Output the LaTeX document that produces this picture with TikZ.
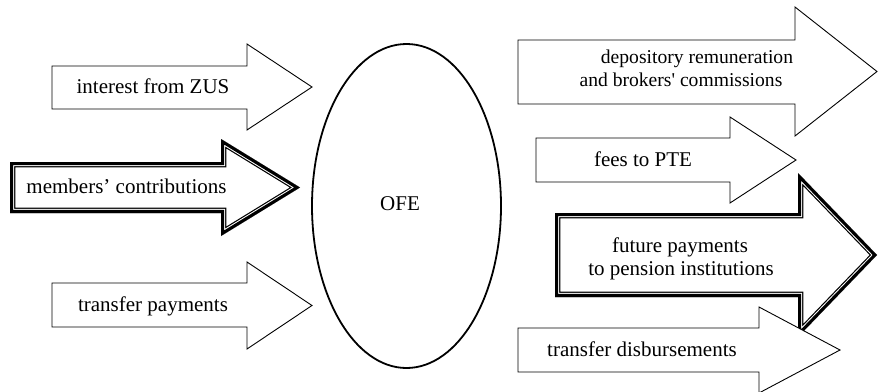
\documentclass[tikz,border=0pt]{standalone}
\usepackage{fontspec}
\setmainfont{Liberation Serif}
\usetikzlibrary{shapes.geometric}
\tikzset{
  plainarrow/.style={draw=black, fill=white, line width=0.9pt, line join=miter},
  lbl/.style={inner sep=0pt, anchor=base, text=black, font=\fontsize{21}{24}\selectfont},
  smalllbl/.style={lbl, font=\fontsize{19.6}{23}\selectfont},
  ofeshape/.style={draw=black, ellipse, line width=1.8pt, minimum width=189pt, minimum height=324pt, inner sep=0pt},
}
% #1 left x, #2 shaft top, #3 shaft bottom, #4 head x, #5 head top, #6 head bottom, #7 tip x
\newcommand{\plainarrow}[7]{%
  \draw[plainarrow] (#1,#2) -- (#4,#2) -- (#4,#5) -- (#7,{(#5+#6)/2}) -- (#4,#6) -- (#4,#3) -- (#1,#3) -- cycle;}
\newcommand{\triplearrow}[7]{%
  \begin{scope}
    \clip (#1,#2) -- (#4,#2) -- (#4,#5) -- (#7,{(#5+#6)/2}) -- (#4,#6) -- (#4,#3) -- (#1,#3) -- cycle;
    \fill[white] (0,0) rectangle (878,391);
    \draw[black, line width=10.6pt, line join=miter] (#1,#2) -- (#4,#2) -- (#4,#5) -- (#7,{(#5+#6)/2}) -- (#4,#6) -- (#4,#3) -- (#1,#3) -- cycle;
    \draw[white, line width=8.2pt, line join=miter] (#1,#2) -- (#4,#2) -- (#4,#5) -- (#7,{(#5+#6)/2}) -- (#4,#6) -- (#4,#3) -- (#1,#3) -- cycle;
    \draw[black, line width=6.2pt, line join=miter] (#1,#2) -- (#4,#2) -- (#4,#5) -- (#7,{(#5+#6)/2}) -- (#4,#6) -- (#4,#3) -- (#1,#3) -- cycle;
  \end{scope}}
\begin{document}
\begin{tikzpicture}[x=1pt, y=-1pt]
  \useasboundingbox (0,0) rectangle (878,391);
  \fill[white] (0,0) rectangle (878,391);

  % incoming arrows
  \plainarrow{52}{66}{109}{247}{44}{130}{312}
  \triplearrow{10}{162}{213}{221}{139}{236}{300}
  \plainarrow{52}{283}{327}{247}{262}{349}{312}

  % OFE
  \node[ofeshape] (ofe) at (406.5,206) {};
  \node[lbl] (ofetext) at (400,210) {OFE};

  % outgoing arrows
  \plainarrow{518}{40}{104}{795}{7}{136}{877}
  \plainarrow{536}{138}{182}{730}{117}{203}{796}
  \triplearrow{555}{213}{297}{798}{173}{337}{877}
  \plainarrow{518}{328}{372}{759}{307}{393}{840}

  % labels
  \node[lbl] (tzus) at (153,93) {interest from ZUS};
  \node[lbl] (tmem) at (126.5,193) {members’ contributions};
  \node[lbl] (ttrp) at (153,311) {transfer payments};
  \node[smalllbl] (tdepa) at (697,63) {depository remuneration};
  \node[smalllbl] (tdepb) at (681,86) {and brokers\textquotesingle\ commissions};
  \node[lbl] (tfees) at (643,166) {fees to PTE};
  \node[lbl] (tfuta) at (680,252) {future payments};
  \node[lbl] (tfutb) at (681,275) {to pension institutions};
  \node[lbl] (ttrd) at (642,356) {transfer disbursements};
\end{tikzpicture}
\end{document}
